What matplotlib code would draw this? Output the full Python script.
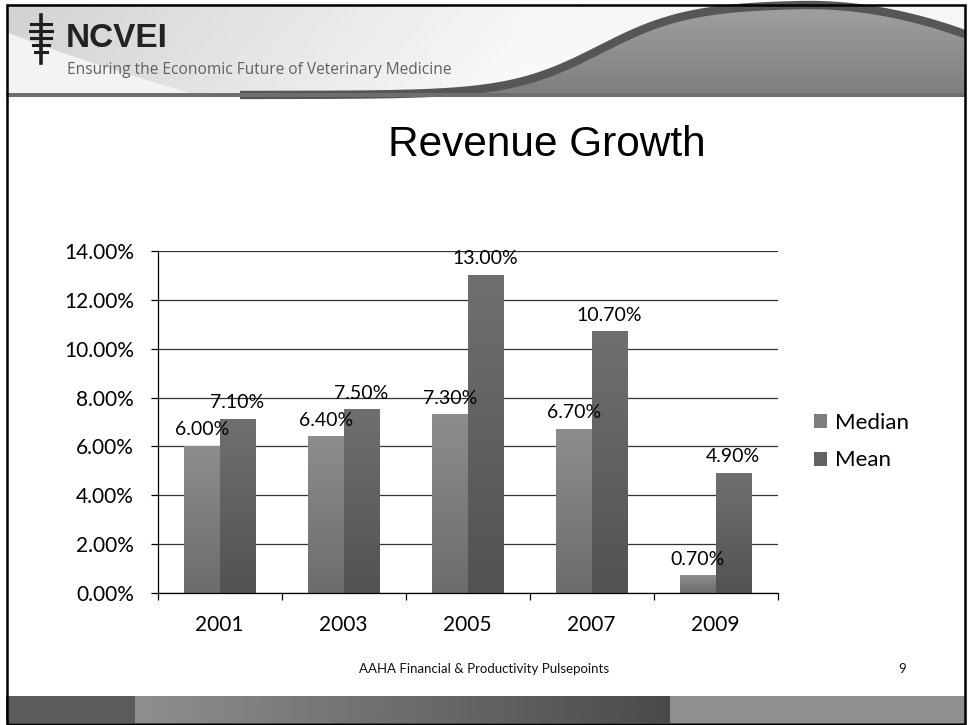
import numpy as np
import matplotlib.pyplot as plt
from matplotlib.colors import LinearSegmentedColormap
from matplotlib.patches import Patch, Polygon, Rectangle

years = ["2001", "2003", "2005", "2007", "2009"]
median = [6.0, 6.4, 7.3, 6.7, 0.7]
mean = [7.1, 7.5, 13.0, 10.7, 4.9]
series_names = ["Median", "Mean"]
y_ticks = [0, 2, 4, 6, 8, 10, 12, 14]

W, H = 968, 725
fig = plt.figure(figsize=(W / 100, H / 100), dpi=100)
fig.patch.set_facecolor("white")

# slide background layer in pixel coordinates
bg = fig.add_axes([0, 0, 1, 1], zorder=0)
bg.set_xlim(0, W)
bg.set_ylim(H, 0)
bg.axis("off")

# header band: soft grey wash
xx, yy = np.meshgrid(np.linspace(0, W, 400), np.linspace(4, 96, 60))
wash = 0.82 + 0.14 * np.clip(xx / 520, 0, 1) + 0.02 * (yy / 96)
bg.imshow(wash, extent=(6, 965, 96, 4), cmap="gray", vmin=0, vmax=1,
          aspect="auto", zorder=1)
swoosh = Polygon([(6, 32), (60, 52), (120, 72), (200, 96), (6, 96)],
                 closed=True, facecolor="#f3f3f3", edgecolor="none", zorder=2)
bg.add_patch(swoosh)

# the wave on the right of the header
cx = np.linspace(240, 965, 400)
cy = 95 - 91 / (1 + np.exp(-(cx - 600) / 45)) + 32 * np.clip((cx - 800) / 170, 0, None) ** 2
under = Polygon(np.column_stack([np.r_[cx, 965, 240], np.r_[cy, 96, 96]]),
                closed=True, facecolor="none", edgecolor="none")
bg.add_patch(under)
grad = np.linspace(0.63, 0.49, 60).reshape(-1, 1) * np.ones((1, 10))
shade = bg.imshow(grad, extent=(240, 965, 96, 4), cmap="gray", vmin=0, vmax=1,
                  aspect="auto", zorder=3)
shade.set_clip_path(under)
bg.plot(cx, cy, color="#565656", lw=6, solid_capstyle="butt", zorder=4)
bg.add_patch(Rectangle((6, 93), 959, 4, facecolor="#6e6e6e", edgecolor="none", zorder=5))

# logo mark
bg.plot([41, 41], [15, 63], color="#1e1e1e", lw=2.6, zorder=6)
for yb, half in [(24, 10), (31, 11), (38, 10), (45, 8), (52, 6)]:
    bg.plot([41 - half, 41 + half], [yb, yb], color="#1e1e1e", lw=2.2, zorder=6)
bg.text(66, 47, "NCVEI", fontsize=24, fontweight="bold", color="#222222",
        family="Liberation Sans", va="baseline", ha="left", zorder=6)
bg.text(67, 70, "Ensuring the Economic Future of Veterinary Medicine", fontsize=11.2,
        color="#606060", family="Open Sans", va="center", ha="left", zorder=6)

# footer band
bg.add_patch(Rectangle((6, 696), 129, 27, facecolor="#5b5b5b", edgecolor="none", zorder=1))
fgrad = np.linspace(0.56, 0.29, 200).reshape(1, -1)
bg.imshow(fgrad, extent=(135, 670, 723, 696), cmap="gray", vmin=0, vmax=1,
          aspect="auto", zorder=1)
bg.add_patch(Rectangle((670, 696), 295, 27, facecolor="#8f8f8f", edgecolor="none", zorder=1))
bg.text(484, 669, "AAHA Financial & Productivity Pulsepoints", fontsize=9.5,
        family="Lato", ha="center", va="center", color="#111111")
bg.text(902, 669, "9", fontsize=9.5, family="Lato", ha="center", va="center", color="#111111")

# slide frame
bg.add_patch(Rectangle((6.5, 4.5), 958, 719, facecolor="none", edgecolor="black",
                       lw=1.8, zorder=10))

bg.text(547, 145, "Revenue Growth", fontsize=30.5, family="Liberation Sans",
        ha="center", va="center", color="black")

# chart
ax = fig.add_axes([157.5 / W, 1 - 593 / H, 620 / W, 342 / H], zorder=2)
ax.patch.set_alpha(0)
x = np.arange(len(years))
bw = 1 / 3.5
ramps = {
    "Median": LinearSegmentedColormap.from_list("med", ["#6c6c6c", "#8d8d8d"]),
    "Mean": LinearSegmentedColormap.from_list("mea", ["#525252", "#6f6f6f"]),
}
vgrad = np.linspace(0, 1, 100).reshape(-1, 1)
for name, vals, off in [("Median", median, -bw / 2), ("Mean", mean, bw / 2)]:
    bars = ax.bar(x + off, vals, width=bw, color=ramps[name](0.5), zorder=3)
    for b, v in zip(bars, vals):
        x0 = b.get_x()
        ax.imshow(vgrad, extent=(x0, x0 + bw, 0, v), origin="lower", cmap=ramps[name],
                  aspect="auto", zorder=3.5)
        ax.annotate(f"{v:.2f}%", (x0 + bw / 2, v), xytext=(0, 8), textcoords="offset points",
                    ha="center", va="baseline", fontsize=14, family="Lato", zorder=5)

ax.set_xlim(-0.5, len(years) - 0.5)
ax.set_ylim(0, 14)
ax.set_yticks(y_ticks)
ax.set_yticklabels([f"{t:.2f}%" for t in y_ticks], family="Lato", fontsize=15)
ax.set_xticks(x)
ax.set_xticklabels(years, family="Lato", fontsize=15)
ax.set_xticks(np.arange(len(years) + 1) - 0.5, minor=True)
ax.tick_params(axis="x", which="major", length=0, pad=16)
ax.tick_params(axis="x", which="minor", length=5, width=0.9, direction="out")
ax.tick_params(axis="y", length=5, width=0.9, direction="out", pad=12)
ax.grid(axis="y", color="#333333", lw=0.9, zorder=1)
ax.set_axisbelow(True)
for s in ["top", "right"]:
    ax.spines[s].set_visible(False)
for s in ["left", "bottom"]:
    ax.spines[s].set_color("black")
    ax.spines[s].set_linewidth(0.9)
    ax.spines[s].set_zorder(6)

handles = [Patch(facecolor=ramps[n](0.55), edgecolor="none") for n in series_names]
fig.legend(handles, series_names, loc="upper left", bbox_to_anchor=(803 / W, 1 - 402 / H),
           frameon=False, prop={"family": "Lato", "size": 16}, handlelength=0.6,
           handleheight=0.6, handletextpad=0.35, labelspacing=0.78, borderpad=0)

fig.savefig("out.png", dpi=100)
